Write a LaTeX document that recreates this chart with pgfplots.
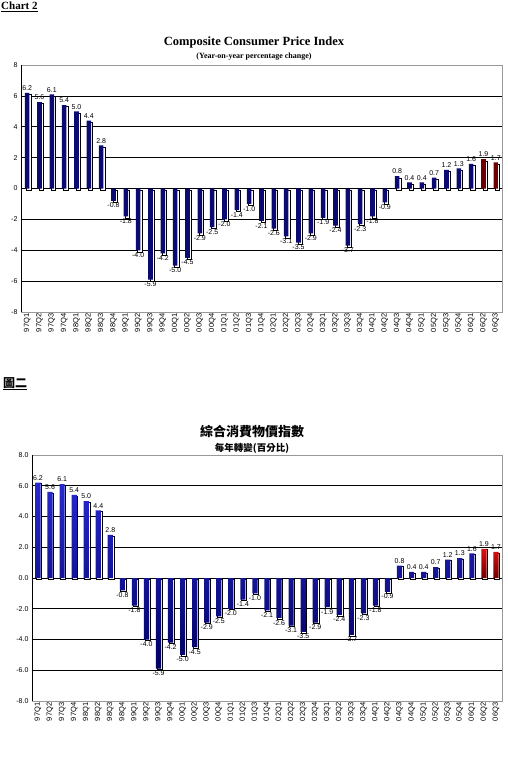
\documentclass[border=0pt]{standalone}
\usepackage{pgfplots}
\pgfplotsset{compat=1.18}
\usepackage{pgfplotstable}
\usepackage{fontspec}
\setmainfont{Liberation Serif}
\newfontfamily\arial{Liberation Sans}
\newfontfamily\cjk{Noto Sans CJK TC}
\definecolor{bdark}{HTML}{0A0A70}
\definecolor{bmid}{HTML}{3030F5}
\definecolor{bdark2}{HTML}{000060}
\definecolor{rdark}{HTML}{700000}
\definecolor{rmid}{HTML}{E01010}

\pgfplotstableread{
x y
0 6.2
1 5.6
2 6.1
3 5.4
4 5.0
5 4.4
6 2.8
7 -0.8
8 -1.8
9 -4.0
10 -5.9
11 -4.2
12 -5.0
13 -4.5
14 -2.9
15 -2.5
16 -2.0
17 -1.4
18 -1.0
19 -2.1
20 -2.6
21 -3.1
22 -3.5
23 -2.9
24 -1.9
25 -2.4
26 -3.7
27 -2.3
28 -1.8
29 -0.9
30 0.8
31 0.4
32 0.4
33 0.7
34 1.2
35 1.3
36 1.6
}\bluedata
\pgfplotstableread{
x y
37 1.9
38 1.7
}\reddata

\pgfplotsset{
  cpi/.style={
    scale only axis,
    ybar, bar width=4.6pt,
    xmin=-0.5, xmax=38.5,
    ymin=-8, ymax=8,
    ytick={-6,-4,...,6},
    extra y ticks={-8,8},
    extra y tick style={grid=none},
    ymajorgrids,
    major grid style={black, line width=0.7pt},
    axis line style={draw=gray!80},
    major tick length=0pt,
    xtick={0,...,38},
    xticklabels={97Q1,97Q2,97Q3,97Q4,98Q1,98Q2,98Q3,98Q4,99Q1,99Q2,99Q3,99Q4,00Q1,00Q2,00Q3,00Q4,01Q1,01Q2,01Q3,01Q4,02Q1,02Q2,02Q3,02Q4,03Q1,03Q2,03Q3,03Q4,04Q1,04Q2,04Q3,04Q4,05Q1,05Q2,05Q3,05Q4,06Q1,06Q2,06Q3},
    xticklabel style={rotate=90, anchor=east, inner sep=1.5pt, font=\arial\fontsize{7.5}{7.5}\selectfont},
    yticklabel style={font=\arial\fontsize{7}{7}\selectfont},
    /pgf/number format/assume math mode=true,
    every node near coord/.append style={font=\arial\fontsize{7}{7}\selectfont, black, inner sep=2pt},
  },
  vals/.style={nodes near coords={\pgfmathprintnumber[fixed,fixed zerofill,precision=1,assume math mode=true]{\pgfplotspointmeta}}},
}

\begin{document}
\begin{tikzpicture}[x=1pt,y=1pt]
\useasboundingbox (0,0) rectangle (508,-769);
% ---------- English chart ----------
\node[anchor=north west, inner sep=0pt] at (1,-2) {\fontsize{11}{11}\selectfont\bfseries\underline{Chart 2}};
\node at (254,-42) {\fontsize{12.5}{12.5}\selectfont\bfseries Composite Consumer Price Index};
\node at (254,-56.5) {\fontsize{8}{8}\selectfont\bfseries (Year-on-year percentage change)};
\begin{axis}[cpi, at={(21pt,-312pt)}, anchor=south west, width=481pt, height=247pt]
\addplot[fill=white, draw=black, line width=0.5pt, bar shift=1.6pt, yshift=-1.6pt] table[x=x,y=y] {\bluedata};
\addplot[fill=white, draw=black, line width=0.5pt, bar shift=1.6pt, yshift=-1.6pt] table[x=x,y=y] {\reddata};
\addplot[draw=none, left color=bdark, middle color=bmid, right color=bdark, bar shift=0pt, vals] table[x=x,y=y] {\bluedata};
\addplot[draw=none, left color=rdark, middle color=rmid, right color=rdark, bar shift=0pt, vals] table[x=x,y=y] {\reddata};
\draw[black, line width=0.7pt] (rel axis cs:0,0) -- (rel axis cs:0,1);
\end{axis}
% ---------- Chinese chart ----------
\node[anchor=north west, inner sep=0pt] at (3,-377) {\cjk\bfseries\fontsize{12}{12}\selectfont\underline{圖二}};
\node at (252,-432) {\cjk\bfseries\fontsize{13}{13}\selectfont 綜合消費物價指數};
\node at (252,-448) {\cjk\bfseries\fontsize{9.5}{9.5}\selectfont 每年轉變(百分比)};
\begin{axis}[cpi, at={(32pt,-701pt)}, anchor=south west, width=470pt, height=246pt,
  bar width=5.2pt,
  yticklabel style={/pgf/number format/.cd, fixed, fixed zerofill, precision=1}]
\addplot[fill=white, draw=black, line width=0.4pt, bar shift=0.9pt, yshift=-0.9pt] table[x=x,y=y] {\bluedata};
\addplot[fill=white, draw=black, line width=0.4pt, bar shift=0.9pt, yshift=-0.9pt] table[x=x,y=y] {\reddata};
\addplot[draw=none, top color=bmid!85!black, bottom color=bdark2, bar shift=0pt, vals] table[x=x,y=y] {\bluedata};
\addplot[draw=none, top color=rmid, bottom color=rdark, bar shift=0pt, vals] table[x=x,y=y] {\reddata};
\draw[black, line width=0.7pt] (rel axis cs:0,0) -- (rel axis cs:0,1);
\end{axis}
\end{tikzpicture}
\end{document}
